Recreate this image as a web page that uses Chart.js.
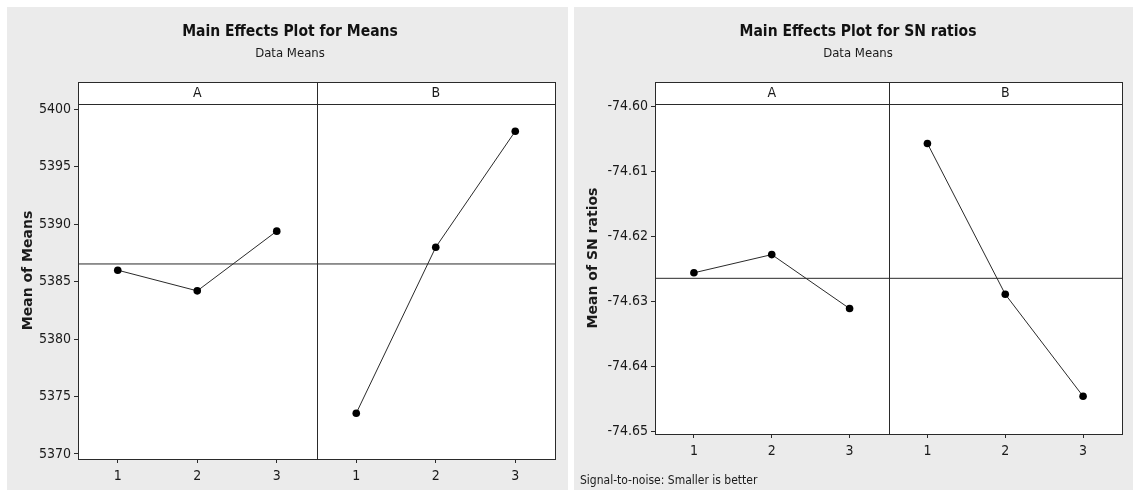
<!DOCTYPE html>
<html>
<head>
<meta charset="utf-8">
<title>Main Effects Plots</title>
<script src="https://cdn.jsdelivr.net/npm/chart.js@4/dist/chart.umd.min.js"></script>
<style>
  html, body { margin: 0; padding: 0; background: #ffffff; width: 1133px; height: 490px; overflow: hidden; }
  .fig { position: absolute; top: 7px; background: #ebebeb; }
  #figMeans { left: 7px; width: 561px; height: 483px; }
  #figSN { left: 574px; width: 559px; height: 483px; }
  canvas { display: block; }
</style>
</head>
<body>
<div class="fig" id="figMeans"><canvas id="cMeans" width="561" height="483"></canvas></div>
<div class="fig" id="figSN"><canvas id="cSN" width="559" height="483"></canvas></div>
<script>
// Factor levels and panel names
const levels = [1, 2, 3];
const factors = ['A', 'B'];

// Mean of means for each level of A and B
const meansA = [5386.0, 5384.2, 5389.4];
const meansB = [5373.55, 5388.0, 5398.1];

// Mean of S/N ratios for each level of A and B
const snA = [-74.6256, -74.6228, -74.6311];
const snB = [-74.6057, -74.6289, -74.6446];

// Y tick labels
const meansTicks = [5370, 5375, 5380, 5385, 5390, 5395, 5400];
const snTicks = [-74.65, -74.64, -74.63, -74.62, -74.61, -74.60];

const NARROW = '"Liberation Sans Narrow", "DejaVu Sans Condensed", "Liberation Sans", sans-serif';
const WIDE = '"DejaVu Sans", Verdana, sans-serif';
const INK = '#1a1a1a';
const LINE = '#2a2a2a';
const STRIP_H = 22;

function crisp(v) { return Math.round(v) + 0.5; }

// Draws the white panels, the factor strip, the panel divider and extra text
const panelPlugin = {
  id: 'panelFrame',
  beforeDatasetsDraw(chart) {
    const { ctx, chartArea: a } = chart;
    ctx.save();
    ctx.fillStyle = '#ffffff';
    ctx.fillRect(a.left, a.top - STRIP_H, a.right - a.left, a.bottom - a.top + STRIP_H);
    ctx.restore();
  },
  afterDraw(chart) {
    const { ctx, chartArea: a, scales } = chart;
    const o = chart.options.plugins.panelFrame;
    const x = scales.x;
    const stripTop = a.top - STRIP_H;
    ctx.save();
    ctx.strokeStyle = LINE;
    ctx.lineWidth = 1;
    // outer frame of strip + plot
    ctx.strokeRect(crisp(a.left), crisp(stripTop), Math.round(a.right) - Math.round(a.left), Math.round(a.bottom) - Math.round(stripTop));
    // strip bottom edge
    ctx.beginPath();
    ctx.moveTo(a.left, crisp(a.top));
    ctx.lineTo(a.right, crisp(a.top));
    // divider between the two factor panels
    const nLev = levels.length;
    for (let p = 1; p < factors.length; p++) {
      const px = crisp(x.getPixelForValue(p * nLev + 0.5));
      ctx.moveTo(px, stripTop);
      ctx.lineTo(px, a.bottom);
    }
    ctx.stroke();
    // strip labels
    ctx.fillStyle = INK;
    ctx.font = '14px ' + NARROW;
    ctx.textAlign = 'center';
    ctx.textBaseline = 'middle';
    factors.forEach((f, p) => {
      const l = x.getPixelForValue(p * nLev + 0.5);
      const r = x.getPixelForValue(p * nLev + nLev + 0.5);
      ctx.fillText(f, (l + r) / 2, stripTop + STRIP_H / 2 + 0.5);
    });
    // y axis title, centred on strip + plot
    ctx.save();
    ctx.translate(o.yTitleX, (stripTop + a.bottom) / 2);
    ctx.rotate(-Math.PI / 2);
    ctx.font = 'bold 14px ' + WIDE;
    ctx.fillText(o.yTitle, 0, 0);
    ctx.restore();
    // footnote
    if (o.footnote) {
      ctx.textAlign = 'left';
      ctx.font = '12px ' + NARROW;
      ctx.fillText(o.footnote, o.footX, o.footY);
    }
    ctx.restore();
  }
};

function makeFigure(canvasId, cfg) {
  const nLev = levels.length;
  const all = cfg.series.flat();
  const grandMean = all.reduce((s, v) => s + v, 0) / all.length;

  const datasets = cfg.series.map((vals, p) => ({
    label: factors[p],
    data: vals.map((v, i) => ({ x: p * nLev + levels[i], y: v })),
    borderColor: LINE,
    borderWidth: 1,
    pointRadius: 3.8,
    pointHoverRadius: 3.8,
    pointBackgroundColor: '#000000',
    pointBorderColor: '#000000',
    pointBorderWidth: 0,
    tension: 0
  }));
  // grand-mean reference line across both panels
  datasets.push({
    label: 'mean',
    data: [{ x: 0.5, y: grandMean }, { x: factors.length * nLev + 0.5, y: grandMean }],
    borderColor: LINE,
    borderWidth: 1,
    pointRadius: 0
  });

  const axisGrid = { drawOnChartArea: false, drawTicks: true, tickLength: 4, color: LINE, tickColor: LINE };
  const tickFont = { family: NARROW, size: 14 };

  return new Chart(document.getElementById(canvasId), {
    type: 'line',
    data: { datasets },
    plugins: [panelPlugin],
    options: {
      responsive: false,
      animation: false,
      events: [],
      layout: { padding: { left: cfg.padLeft, top: 0, right: cfg.padRight, bottom: cfg.padBottom } },
      plugins: {
        legend: { display: false },
        tooltip: { enabled: false },
        title: {
          display: true,
          text: cfg.title,
          color: '#111111',
          font: { family: NARROW, size: 15.5, weight: 'bold', lineHeight: 1.2 },
          padding: { top: 15.7, bottom: 4.9 }
        },
        subtitle: {
          display: true,
          text: 'Data Means',
          color: INK,
          font: { family: NARROW, size: 13, lineHeight: 1.2 },
          padding: { top: 0, bottom: 42.2 }
        },
        panelFrame: { yTitle: cfg.yTitle, yTitleX: cfg.yTitleX, footnote: cfg.footnote, footX: 6, footY: 474 }
      },
      scales: {
        x: {
          type: 'linear',
          min: 0.5,
          max: factors.length * nLev + 0.5,
          afterBuildTicks: s => { s.ticks = factors.flatMap((f, p) => levels.map(L => ({ value: p * nLev + L }))); },
          afterFit: s => { s.height = 31; },
          ticks: {
            autoSkip: false, maxRotation: 0, padding: 5, color: INK, font: tickFont,
            callback: v => String(levels[(Math.round(v) - 1) % nLev])
          },
          grid: axisGrid,
          border: { display: true, color: LINE, width: 1 }
        },
        y: {
          type: 'linear',
          min: cfg.yMin,
          max: cfg.yMax,
          afterBuildTicks: s => { s.ticks = cfg.yTicks.map(v => ({ value: v })); },
          afterFit: s => { s.width = cfg.yAxisWidth; },
          ticks: { padding: 3, color: INK, font: tickFont, callback: cfg.fmt },
          grid: axisGrid,
          border: { display: true, color: LINE, width: 1 }
        }
      }
    }
  });
}

makeFigure('cMeans', {
  title: 'Main Effects Plot for Means',
  yTitle: 'Mean of Means',
  series: [meansA, meansB],
  yMin: 5369.56, yMax: 5400.47,
  yTicks: meansTicks,
  fmt: v => String(Math.round(v)),
  padLeft: 18, yAxisWidth: 53, padRight: 13, padBottom: 0,
  yTitleX: 21
});

makeFigure('cSN', {
  title: 'Main Effects Plot for SN ratios',
  yTitle: 'Mean of SN ratios',
  series: [snA, snB],
  yMin: -74.6504, yMax: -74.59963,
  yTicks: snTicks,
  fmt: v => v.toFixed(2),
  padLeft: 20, yAxisWidth: 61, padRight: 11, padBottom: 25,
  yTitleX: 19,
  footnote: 'Signal-to-noise: Smaller is better'
});
</script>
</body>
</html>
